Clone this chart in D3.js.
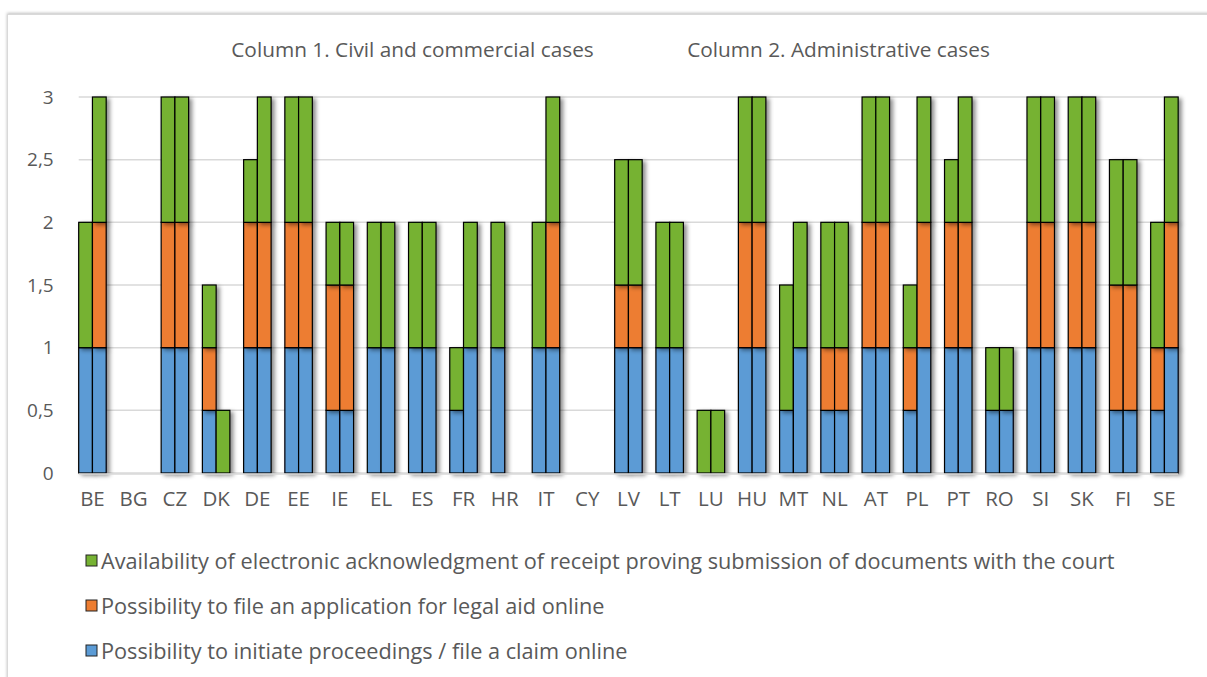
<!DOCTYPE html>
<html>
<head>
<meta charset="utf-8">
<script src="https://cdn.jsdelivr.net/npm/d3@7"></script>
<style>
    body { margin: 0; background: #fff; }
    text { font-family: "Open Sans", sans-serif; fill: #595959; }
</style>
</head>
<body>
<svg id="chart" width="1207" height="677"></svg>
<script>
const countries = ["BE", "BG", "CZ", "DK", "DE", "EE", "IE", "EL", "ES", "FR", "HR", "IT", "CY",
    "LV", "LT", "LU", "HU", "MT", "NL", "AT", "PL", "PT", "RO", "SI", "SK", "FI", "SE"];

// column 1: civil and commercial cases
const initiate1 = [1, 0, 1, 0.5, 1, 1, 0.5, 1, 1, 0.5, 1, 1, 0, 1, 1, 0, 1, 0.5, 0.5, 1, 0.5, 1, 0.5, 1, 1, 0.5, 0.5];
const legalAid1 = [0, 0, 1, 0.5, 1, 1, 1, 0, 0, 0, 0, 0, 0, 0.5, 0, 0, 1, 0, 0.5, 1, 0.5, 1, 0, 1, 1, 1, 0.5];
const ack1 = [1, 0, 1, 0.5, 0.5, 1, 0.5, 1, 1, 0.5, 1, 1, 0, 1, 1, 0.5, 1, 1, 1, 1, 0.5, 0.5, 0.5, 1, 1, 1, 1];

// column 2: administrative cases
const initiate2 = [1, 0, 1, 0, 1, 1, 0.5, 1, 1, 1, 0, 1, 0, 1, 1, 0, 1, 1, 0.5, 1, 1, 1, 0.5, 1, 1, 0.5, 1];
const legalAid2 = [1, 0, 1, 0, 1, 1, 1, 0, 0, 0, 0, 1, 0, 0.5, 0, 0, 1, 0, 0.5, 1, 1, 1, 0, 1, 1, 1, 1];
const ack2 = [1, 0, 1, 0.5, 1, 1, 0.5, 1, 1, 1, 0, 1, 0, 1, 1, 0.5, 1, 1, 1, 1, 1, 1, 0.5, 1, 1, 1, 1];

const yTicks = [0, 0.5, 1, 1.5, 2, 2.5, 3];
const columnTitles = ["Column 1. Civil and commercial cases", "Column 2. Administrative cases"];

const keys = ["initiate", "legalAid", "ack"];
const colors = { initiate: "#5B9BD5", legalAid: "#ED7D31", ack: "#76B233" };
const legendLabels = [
    ["ack", "Availability of electronic acknowledgment of receipt proving submission of documents with the court"],
    ["legalAid", "Possibility to file an application for legal aid online"],
    ["initiate", "Possibility to initiate proceedings / file a claim online"]
];

const svg = d3.select("#chart");

// shadows
const defs = svg.append("defs");
defs.append("filter").attr("id", "shadow")
    .attr("x", "-50%").attr("y", "-10%").attr("width", "250%").attr("height", "130%")
    .append("feDropShadow")
    .attr("dx", 3).attr("dy", 2).attr("stdDeviation", 2.2)
    .attr("flood-color", "#000").attr("flood-opacity", 0.45);
defs.append("filter").attr("id", "boxShadow")
    .attr("x", "-5%").attr("y", "-5%").attr("width", "110%").attr("height", "110%")
    .append("feDropShadow")
    .attr("dx", 0).attr("dy", -1).attr("stdDeviation", 1.5)
    .attr("flood-color", "#000").attr("flood-opacity", 0.25);

// chart area border
svg.append("rect")
    .attr("x", 7.5).attr("y", 14.5)
    .attr("width", 1230).attr("height", 700)
    .attr("fill", "#fff")
    .attr("stroke", "#d9d9d9")
    .attr("filter", "url(#boxShadow)");

const x = d3.scaleBand()
    .domain(countries)
    .range([78.7, 78.7 + 27 * 41.23])
    .padding(0);
const barWidth = x.bandwidth() / 3;

const y = d3.scaleLinear().domain([0, 3]).range([473, 97]);

// gridlines
svg.append("g")
    .selectAll("line")
    .data(yTicks)
    .join("line")
    .attr("x1", x.range()[0])
    .attr("x2", x.range()[1] - barWidth)
    .attr("y1", d => y(d))
    .attr("y2", d => y(d))
    .attr("stroke", "#d9d9d9")
    .attr("stroke-width", 1.5);

// y axis labels
const yAxis = svg.append("g")
    .attr("transform", `translate(${x.range()[0] - 22},0)`)
    .call(d3.axisLeft(y).tickValues(yTicks).tickSize(0).tickFormat(d => String(d).replace(".", ",")));
yAxis.select(".domain").remove();
yAxis.selectAll("text")
    .attr("font-size", 19)
    .attr("font-family", "Open Sans, sans-serif")
    .attr("fill", "#595959");

// x axis labels, centred under the pair of bars
const xAxis = svg.append("g")
    .attr("transform", `translate(${barWidth - x.bandwidth() / 2},${y(0) + 12})`)
    .call(d3.axisBottom(x).tickSize(0));
xAxis.select(".domain").remove();
xAxis.selectAll("text")
    .attr("font-size", 20.5)
    .attr("font-family", "Open Sans, sans-serif")
    .attr("fill", "#595959")
    .attr("dy", "0.9em");

// build stacked data for each column
function buildRows(a, b, c) {
    return countries.map((country, i) => ({ country: country, initiate: a[i], legalAid: b[i], ack: c[i] }));
}
const columns = [
    buildRows(initiate1, legalAid1, ack1),
    buildRows(initiate2, legalAid2, ack2)
];
const stack = d3.stack().keys(keys);

const barsGroup = svg.append("g");
const segments = [];
columns.forEach((rows, col) => {
    stack(rows).forEach(layer => {
        layer.forEach(d => {
            if (d[1] - d[0] > 0) {
                segments.push({ col: col, key: layer.key, country: d.data.country, y0: d[0], y1: d[1] });
            }
        });
    });
});

// draw country by country so shadows fall behind the next bar
segments.sort((a, b) => countries.indexOf(a.country) - countries.indexOf(b.country) || a.col - b.col);

barsGroup.selectAll("rect")
    .data(segments)
    .join("rect")
    .attr("x", d => x(d.country) + d.col * barWidth)
    .attr("y", d => y(d.y1))
    .attr("width", barWidth)
    .attr("height", d => y(d.y0) - y(d.y1))
    .attr("fill", d => colors[d.key])
    .attr("stroke", "#000")
    .attr("stroke-width", 1.2)
    .attr("filter", "url(#shadow)");

// bottom axis line
svg.append("line")
    .attr("x1", x.range()[0])
    .attr("x2", x.range()[1] - barWidth)
    .attr("y1", y(0) + 1)
    .attr("y2", y(0) + 1)
    .attr("stroke", "#d9d9d9")
    .attr("stroke-width", 1.5);

// column titles
svg.append("text")
    .attr("x", 412.5).attr("y", 57)
    .attr("text-anchor", "middle")
    .attr("font-size", 20.8)
    .text(columnTitles[0]);
svg.append("text")
    .attr("x", 838.5).attr("y", 57)
    .attr("text-anchor", "middle")
    .attr("font-size", 20.8)
    .text(columnTitles[1]);

// legend
const legend = svg.append("g");
legendLabels.forEach((item, i) => {
    const row = legend.append("g").attr("transform", `translate(86,${561 + i * 45})`);
    row.append("rect")
        .attr("x", 0).attr("y", -6)
        .attr("width", 11).attr("height", 11)
        .attr("fill", colors[item[0]])
        .attr("stroke", "#222")
        .attr("stroke-width", 1);
    row.append("text")
        .attr("x", 15).attr("y", 0)
        .attr("dy", "0.35em")
        .attr("font-size", 21.7)
        .text(item[1]);
});
</script>
</body>
</html>
